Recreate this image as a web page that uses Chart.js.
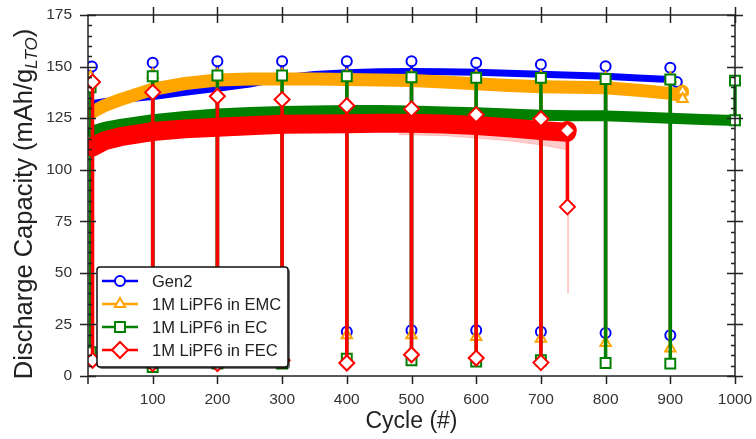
<!DOCTYPE html>
<html>
<head>
<meta charset="utf-8">
<script src="https://cdn.jsdelivr.net/npm/chart.js@4.4.0/dist/chart.umd.min.js"></script>
<style>
html, body { margin: 0; padding: 0; background: #fff; }
canvas { display: block; }
</style>
</head>
<body>
<canvas id="grafico-ciclos" width="756" height="439"></canvas>
<script>
const nomes = ['Gen2', '1M LiPF6 in EMC', '1M LiPF6 in EC', '1M LiPF6 in FEC'];
const ticksX = [100, 200, 300, 400, 500, 600, 700, 800, 900, 1000];
const ticksY = [0, 25, 50, 75, 100, 125, 150, 175];

// Gen2
const gen2Ciclos = [6, 25, 50, 100, 150, 200, 250, 300, 350, 400, 450, 500, 550, 600, 650, 700, 750, 800, 850, 900];
const gen2Banda = [132, 133, 134, 135.5, 137.5, 139.5, 141.5, 144.5, 146.2, 147, 147.5, 147.6, 147.5, 147.2, 146.8, 146.3, 145.8, 145.3, 144.5, 143.7];
const gen2Marcas = [6, 100, 200, 300, 400, 500, 600, 700, 800, 900];
const gen2Alto = [150, 151.8, 152.6, 152.6, 152.6, 152.6, 151.8, 151, 150.2, 149.4];
const gen2Baixo = [null, 21, 21, 20.7, 21.4, 22.2, 22.2, 21.4, 20.9, 19.7];
const gen2FimX = [910];
const gen2FimY = [142.5];

// 1M LiPF6 in EMC
const emcCiclos = [4, 25, 50, 100, 150, 200, 250, 300, 350, 400, 450, 500, 550, 600, 650, 700, 750, 800, 850, 900, 910];
const emcBanda = [127.5, 131, 134, 139, 141.8, 143.5, 144, 144, 144, 143.7, 143.5, 143.2, 142.5, 141.7, 140.8, 140.2, 140, 139.7, 138.5, 137, 136.3];
const emcMarcas = [4, 100, 200, 300, 400, 500, 600, 700, 800, 900];
const emcAlto = [145, 146, 146.2, 146.2, 145.8, 145.3, 145.1, 145, 144.5, 144.2];
const emcBaixo = [null, 20, 20, 20, 19.7, 19.7, 18.9, 18.1, 16, 13.3];
const emcFimX = [919, 919];
const emcFimY = [138, 134.3];

// 1M LiPF6 in EC
const ecCiclos = [4, 25, 50, 100, 150, 200, 250, 300, 350, 400, 450, 500, 550, 600, 650, 700, 750, 800, 850, 900, 950, 1000];
const ecBanda = [118.5, 120.5, 122, 124.2, 125.8, 127, 127.7, 128.2, 128.5, 128.7, 128.7, 128.5, 128, 127.6, 127, 126.4, 126.2, 126.1, 125.5, 125, 124.4, 123.8];
const ecMarcas = [4, 100, 200, 300, 400, 500, 600, 700, 800, 900, 1000];
const ecAlto = [140, 145.3, 145.7, 145.7, 145.3, 144.8, 144.6, 144.5, 144, 143.7, 143.2];
const ecBaixo = [11.5, 4.3, 6, 6, 8.4, 7.6, 7, 7.6, 6.3, 6, null];
const ecFimX = [1000];
const ecFimY = [124];

// 1M LiPF6 in FEC
const fecCiclos = [7, 25, 50, 100, 150, 200, 250, 300, 350, 400, 450, 500, 550, 600, 650, 700, 740];
const fecBanda = [111, 114, 116, 118.5, 119.8, 120.6, 121.3, 122, 122.2, 122.3, 122.5, 122.5, 122.2, 121.4, 120.3, 119, 118.2];
const fecMarcas = [7, 100, 200, 300, 400, 500, 600, 700];
const fecAlto = [142.5, 137.5, 135.6, 134, 131, 129.5, 126.7, 124.7];
const fecBaixo = [7.6, 6, 6, 7.6, 6.3, 10.3, 8.7, 6.5];
const fecFimX = [741, 741];
const fecFimY = [119, 82];

// faixa clara abaixo da FEC
const palidoCiclos = [480, 550, 600, 650, 700, 740];
const palidoTopo = [122.5, 122.2, 121.4, 120.3, 119, 118.2];
const palidoBase = [117, 116.5, 115.3, 114, 112, 109.7];
const quedaX = [742, 742];
const quedaY = [82, 40];

const cores = ['rgb(0, 0, 255)', 'rgb(255, 165, 0)', 'rgb(0, 128, 0)', 'rgb(255, 0, 0)'];
const estilos = ['circle', 'triangle', 'rect', 'rectRot'];
const raios = [5, 6, 7, 7.5];
const fonte = '"Liberation Sans", Arial, Helvetica, sans-serif';

function montaSerie(ciclos, banda, marcas, alto, baixo, fimX, fimY) {
    const pts = [];
    ciclos.forEach(function(c, i) {
        pts.push({x: c, y: banda[i]});
        const j = marcas.indexOf(c);
        if (j >= 0) {
            pts.push({x: c, y: alto[j], marca: true});
            if (baixo[j] !== null) pts.push({x: c, y: baixo[j], marca: true});
            pts.push({x: c, y: banda[i]});
        }
    });
    fimX.forEach(function(x, k) {
        pts.push({x: x, y: fimY[k], marca: true});
    });
    return pts;
}

function serie(i, data, larguraBanda, ordem) {
    const raio = function(ctx) { return ctx.raw && ctx.raw.marca ? raios[i] : 0; };
    return {
        label: nomes[i],
        data: data,
        borderColor: cores[i],
        backgroundColor: '#fff',
        borderWidth: larguraBanda,
        borderCapStyle: 'round',
        borderJoinStyle: 'round',
        segment: {
            borderWidth: function(ctx) {
                return ctx.p0.parsed.x === ctx.p1.parsed.x ? 3.5 : larguraBanda;
            }
        },
        pointStyle: estilos[i],
        pointRadius: raio,
        pointHoverRadius: raio,
        pointBackgroundColor: '#fff',
        pointBorderColor: cores[i],
        pointBorderWidth: 2,
        tension: 0,
        fill: false,
        order: ordem,
        clip: {left: 0, top: 10, right: 10, bottom: 10}
    };
}

const faixaTopo = palidoCiclos.map(function(c, i) { return {x: c, y: palidoTopo[i]}; });
const faixaBase = palidoCiclos.map(function(c, i) { return {x: c, y: palidoBase[i]}; });
const queda = quedaX.map(function(x, i) { return {x: x, y: quedaY[i]}; });

const conjuntos = [
    serie(0, montaSerie(gen2Ciclos, gen2Banda, gen2Marcas, gen2Alto, gen2Baixo, gen2FimX, gen2FimY), 7, 6),
    serie(1, montaSerie(emcCiclos, emcBanda, emcMarcas, emcAlto, emcBaixo, emcFimX, emcFimY), 13, 5),
    serie(2, montaSerie(ecCiclos, ecBanda, ecMarcas, ecAlto, ecBaixo, ecFimX, ecFimY), 11, 4),
    {
        label: 'topo', data: faixaTopo, borderWidth: 0, pointRadius: 0,
        borderColor: 'rgba(255,0,0,0)', fill: false, order: 3
    },
    {
        label: 'base', data: faixaBase, borderWidth: 1, pointRadius: 0,
        borderColor: 'rgba(255,0,0,0.15)', backgroundColor: 'rgba(255,0,0,0.2)', fill: '-1', order: 3
    },
    {
        label: 'queda', data: queda, borderWidth: 2, pointRadius: 0,
        borderColor: 'rgba(255,0,0,0.2)', fill: false, order: 3
    },
    serie(3, montaSerie(fecCiclos, fecBanda, fecMarcas, fecAlto, fecBaixo, fecFimX, fecFimY), 19, 1)
];

const moldura = {
    id: 'moldura',
    afterDatasetsDraw(chart) {
        const ctx = chart.ctx;
        const a = chart.chartArea;
        const x = chart.scales.x, y = chart.scales.y;
        ctx.save();
        ctx.strokeStyle = '#222';
        ctx.lineWidth = 1.5;
        ctx.strokeRect(a.left, a.top, a.right - a.left, a.bottom - a.top);
        ctx.beginPath();
        for (let v = 0; v <= 175; v += 5) {
            const py = Math.round(y.getPixelForValue(v)) + 0.5;
            if (ticksY.indexOf(v) >= 0) {
                ctx.moveTo(a.left - 8, py); ctx.lineTo(a.left + 8, py);
                ctx.moveTo(a.right - 8, py); ctx.lineTo(a.right + 8, py);
            } else {
                ctx.moveTo(a.left, py); ctx.lineTo(a.left + 4, py);
                ctx.moveTo(a.right - 4, py); ctx.lineTo(a.right, py);
            }
        }
        ticksX.forEach(function(c) {
            const px = Math.round(x.getPixelForValue(c)) + 0.5;
            ctx.moveTo(px, a.top - 8); ctx.lineTo(px, a.top + 8);
            ctx.moveTo(px, a.bottom); ctx.lineTo(px, a.bottom + 8);
        });
        ctx.moveTo(a.left, a.bottom); ctx.lineTo(a.left, a.bottom + 8);
        ctx.stroke();
        ctx.restore();
    }
};

const textos = {
    id: 'textos',
    afterDraw(chart) {
        const ctx = chart.ctx;
        const a = chart.chartArea;
        ctx.save();
        ctx.fillStyle = '#222';
        // titulo x
        ctx.font = '23px ' + fonte;
        ctx.textAlign = 'center';
        ctx.textBaseline = 'alphabetic';
        ctx.fillText('Cycle (#)', (a.left + a.right) / 2, 428);
        // titulo y com subscrito
        const f1 = '25.5px ' + fonte, f2 = 'italic 17px ' + fonte;
        const p1 = 'Discharge Capacity (mAh/g', p2 = 'LTO', p3 = ')';
        ctx.font = f1; const w1 = ctx.measureText(p1).width; const w3 = ctx.measureText(p3).width;
        ctx.font = f2; const w2 = ctx.measureText(p2).width;
        ctx.translate(23, 204);
        ctx.rotate(-Math.PI / 2);
        ctx.textAlign = 'left';
        let px = -(w1 + w2 + w3) / 2;
        ctx.font = f1; ctx.fillText(p1, px, 8.5); px += w1;
        ctx.font = f2; ctx.fillText(p2, px, 13.5); px += w2;
        ctx.font = f1; ctx.fillText(p3, px, 8.5);
        ctx.restore();

        // legenda
        const bx = 97, by = 267, bw = 191, bh = 100;
        ctx.save();
        ctx.shadowColor = 'rgba(0,0,0,0.55)';
        ctx.shadowOffsetX = 2;
        ctx.shadowOffsetY = 2;
        ctx.fillStyle = '#fff';
        ctx.beginPath();
        ctx.roundRect(bx, by, bw, bh, 3);
        ctx.fill();
        ctx.shadowColor = 'rgba(0,0,0,0)';
        ctx.strokeStyle = '#111';
        ctx.lineWidth = 1.5;
        ctx.stroke();
        nomes.forEach(function(nome, i) {
            const yy = by + 14 + i * 23;
            ctx.strokeStyle = cores[i];
            ctx.lineWidth = 2.5;
            ctx.beginPath();
            ctx.moveTo(bx + 5, yy); ctx.lineTo(bx + 41, yy);
            ctx.stroke();
            ctx.fillStyle = '#fff';
            ctx.lineWidth = 2;
            Chart.helpers.drawPoint(ctx, {pointStyle: estilos[i], radius: i === 3 ? 8 : raios[i], borderWidth: 2, rotation: 0}, bx + 23, yy);
            ctx.fillStyle = '#222';
            ctx.font = '16.5px ' + fonte;
            ctx.textAlign = 'left';
            ctx.textBaseline = 'middle';
            ctx.fillText(nome, bx + 55, yy + 1);
        });
        ctx.restore();
    }
};

const ctx = document.getElementById('grafico-ciclos').getContext('2d');
const grafico = new Chart(ctx, {
    type: 'line',
    data: { datasets: conjuntos },
    options: {
        responsive: false,
        animation: false,
        devicePixelRatio: 1,
        layout: { padding: { top: 15, right: 21, left: 0, bottom: 0 } },
        plugins: { legend: { display: false }, tooltip: { enabled: false } },
        scales: {
            x: {
                type: 'linear', min: 0, max: 1000,
                afterBuildTicks: function(s) { s.ticks = [0].concat(ticksX).map(function(v) { return {value: v}; }); },
                ticks: {
                    callback: function(v) { return v === 0 ? '' : v; },
                    font: { family: fonte, size: 15.5 }, color: '#333', padding: 14,
                    maxRotation: 0, autoSkip: false
                },
                grid: { display: false, drawTicks: false },
                border: { display: false },
                afterFit: function(s) { s.height = 63; s.paddingLeft = 0; s.paddingRight = 0; }
            },
            y: {
                type: 'linear', min: 0, max: 175,
                afterBuildTicks: function(s) { s.ticks = ticksY.map(function(v) { return {value: v}; }); },
                ticks: { font: { family: fonte, size: 15.5 }, color: '#333', padding: 16 },
                grid: { display: false, drawTicks: false },
                border: { display: false },
                afterFit: function(s) { s.width = 88; s.paddingTop = 0; s.paddingBottom = 0; }
            }
        }
    },
    plugins: [moldura, textos]
});
</script>
</body>
</html>
